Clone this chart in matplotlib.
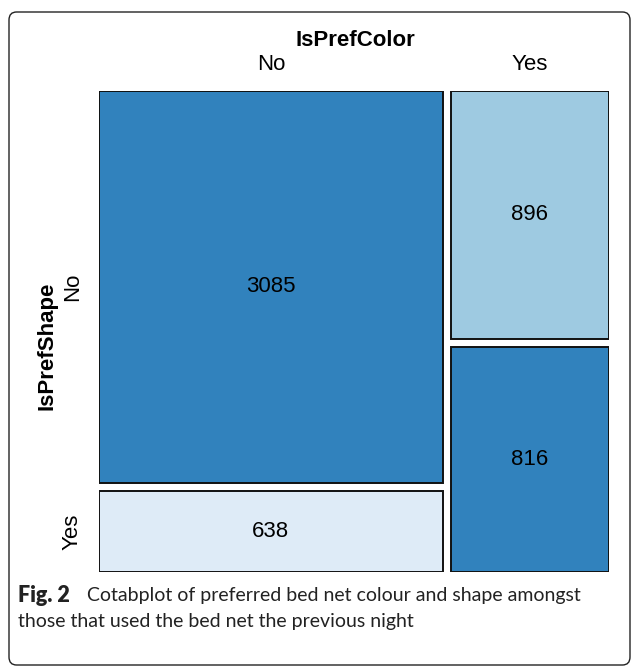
import matplotlib.pyplot as plt
from matplotlib.patches import Rectangle, FancyBboxPatch

# counts: rows = IsPrefShape (No, Yes), columns = IsPrefColor (No, Yes)
color_levels = ["No", "Yes"]
shape_levels = ["No", "Yes"]
counts_no_color = [3085, 638]
counts_yes_color = [896, 816]
cell_colors_no = ["#3182bd", "#deebf7"]
cell_colors_yes = ["#9ecae1", "#3182bd"]

W, H = 632, 668
fig = plt.figure(figsize=(W / 100, H / 100), dpi=100)

# rounded frame around the figure panel
frame = FancyBboxPatch((9 / W, 3 / H), 621 / W, 653 / H,
                       boxstyle="round,pad=0,rounding_size=0.012",
                       transform=fig.transFigure, fill=False,
                       edgecolor="#222222", linewidth=1.0)
fig.patches.append(frame)

left, right, top, bottom = 99, 609, 91, 572
ax = fig.add_axes([left / W, (H - bottom) / H, (right - left) / W, (bottom - top) / H])
ax.set_xlim(0, 1)
ax.set_ylim(0, 1)
ax.axis("off")

gx = 8 / (right - left)
gy = 8 / (bottom - top)

cols = [counts_no_color, counts_yes_color]
fills = [cell_colors_no, cell_colors_yes]
totals = [sum(c) for c in cols]
grand = sum(totals)

x0 = 0
label_font = dict(family=["Liberation Sans", "DejaVu Sans"], fontsize=16)
for ci, col in enumerate(cols):
    w = (1 - gx) * totals[ci] / grand
    y_top = 1
    for ri, n in enumerate(col):
        h = (1 - gy) * n / totals[ci]
        ax.add_patch(Rectangle((x0, y_top - h), w, h, facecolor=fills[ci][ri],
                               edgecolor="#111111", linewidth=1.4))
        ax.text(x0 + w / 2, y_top - h / 2, str(n), ha="center", va="center", **label_font)
        if ci == 0:
            ax.text(-0.052, y_top - h / 2, shape_levels[ri], rotation=90,
                    ha="center", va="center", **label_font)
        y_top -= h + gy
    ax.text(x0 + w / 2, 1.056, color_levels[ci], ha="center", va="center", **label_font)
    x0 += w + gx

fig.text(355 / W, 1 - 40 / H, "IsPrefColor", ha="center", va="center",
         fontweight="bold", **label_font)
fig.text(47 / W, 1 - 346 / H, "IsPrefShape", ha="center", va="center", rotation=90,
         fontweight="bold", **label_font)

cap_font = dict(family=["Lato", "DejaVu Sans"], fontsize=14, color="#222222")
fig.text(18 / W, 1 - 596 / H, "Fig. 2", ha="left", va="center", fontweight="heavy",
         family=["Lato", "DejaVu Sans"], fontsize=15.5, color="#222222")
fig.text(87 / W, 1 - 596 / H, "Cotabplot of preferred bed net colour and shape amongst",
         ha="left", va="center", **cap_font)
fig.text(18 / W, 1 - 622 / H, "those that used the bed net the previous night",
         ha="left", va="center", **cap_font)

fig.savefig("out.png", dpi=100)
